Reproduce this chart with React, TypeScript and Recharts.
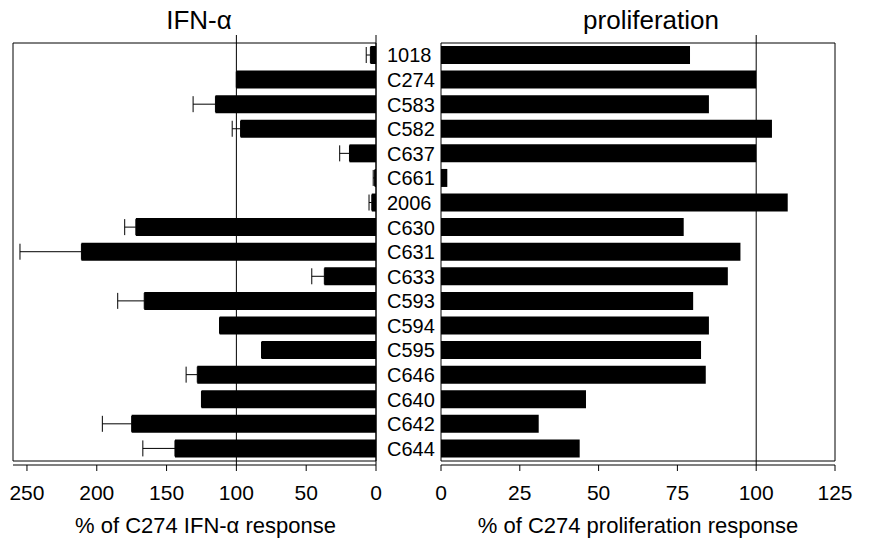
import React from 'react'
import { BarChart, Bar, XAxis, YAxis, ErrorBar, ReferenceLine, ReferenceArea, Label } from 'recharts'

const categories = ['1018', 'C274', 'C583', 'C582', 'C637', 'C661', '2006', 'C630', 'C631', 'C633', 'C593', 'C594', 'C595', 'C646', 'C640', 'C642', 'C644']
// % of C274 IFN-alpha response, with one-sided error
const ifnValues = [4, 100, 115, 97, 19, 1, 3, 172, 211, 37, 166, 112, 82, 128, 125, 175, 144]
const ifnErrors = [3, 0, 16, 6, 7, 1, 2, 8, 44, 9, 19, 0, 0, 8, 0, 21, 23]
// % of C274 proliferation response
const prolifValues = [79, 100, 85, 105, 100, 2, 110, 77, 95, 91, 80, 85, 82.5, 84, 46, 31, 44]

const ifnTicks = [0, 50, 100, 150, 200, 250]
const prolifTicks = [0, 25, 50, 75, 100, 125]

const FONT = 'Arial, "Liberation Sans", Helvetica, sans-serif'

const data = categories.map((name, i) => ({
  name,
  ifn: ifnValues[i],
  ifnErr: [0, ifnErrors[i]],
  prolif: prolifValues[i],
}))

const tickStyle = { fill: '#000', fontSize: 21, fontFamily: FONT }

export default function App() {
  return (
    <div style={{ position: 'absolute', left: 0, top: 0, width: 872, height: 538, background: '#fff', fontFamily: FONT }}>
      <svg width={872} height={40} style={{ position: 'absolute', left: 0, top: 0 }}>
        <text x={199} y={29} textAnchor="middle" fontSize={26} fontFamily={FONT} fill="#000">IFN-α</text>
        <text x={651} y={29} textAnchor="middle" fontSize={26} fontFamily={FONT} fill="#000">proliferation</text>
      </svg>

      {/* left panel: IFN-alpha, reversed axis */}
      <div style={{ position: 'absolute', left: 0, top: 0 }}>
        <BarChart width={441} height={538} data={data} layout="vertical" margin={{ top: 35, right: 0, bottom: 0, left: 13 }}>
          <XAxis
            type="number"
            domain={[0, 260]}
            reversed
            ticks={ifnTicks}
            height={73}
            tickSize={6}
            tickMargin={14}
            tick={tickStyle}
            axisLine={{ stroke: '#000' }}
            tickLine={{ stroke: '#000' }}
          >
            <Label value="% of C274 IFN-α response" position="insideBottom" offset={5} dx={11} style={{ fill: '#000', fontSize: 22, fontFamily: FONT }} />
          </XAxis>
          <YAxis
            type="category"
            dataKey="name"
            orientation="right"
            width={65}
            tickSize={0}
            tickMargin={11}
            interval={0}
            padding={{ top: 8, bottom: 4 }}
            tick={{ fill: '#000', fontSize: 20, fontFamily: FONT }}
            axisLine={{ stroke: '#000' }}
          />
          <ReferenceArea x1={0} x2={260} fill="none" fillOpacity={0} stroke="#000" strokeWidth={1} />
          <ReferenceLine x={100} stroke="#000" strokeWidth={1} />
          <Bar dataKey="ifn" fill="#000" barSize={18} isAnimationActive={false}>
            <ErrorBar dataKey="ifnErr" direction="x" width={8} stroke="#000" strokeWidth={1} />
          </Bar>
        </BarChart>
      </div>

      {/* right panel: proliferation */}
      <div style={{ position: 'absolute', left: 430, top: 0 }}>
        <BarChart width={442} height={538} data={data} layout="vertical" margin={{ top: 35, right: 37, bottom: 0, left: 11 }}>
          <XAxis
            type="number"
            domain={[0, 125]}
            ticks={prolifTicks}
            height={73}
            tickSize={6}
            tickMargin={14}
            tick={tickStyle}
            axisLine={{ stroke: '#000' }}
            tickLine={{ stroke: '#000' }}
          >
            <Label value="% of C274 proliferation response" position="insideBottom" offset={5} style={{ fill: '#000', fontSize: 22, fontFamily: FONT }} />
          </XAxis>
          <YAxis type="category" dataKey="name" hide padding={{ top: 8, bottom: 4 }} />
          <ReferenceArea x1={0} x2={125} fill="none" fillOpacity={0} stroke="#000" strokeWidth={1} />
          <ReferenceLine x={100} stroke="#000" strokeWidth={1} />
          <Bar dataKey="prolif" fill="#000" barSize={18} isAnimationActive={false} />
        </BarChart>
      </div>
    </div>
  )
}
